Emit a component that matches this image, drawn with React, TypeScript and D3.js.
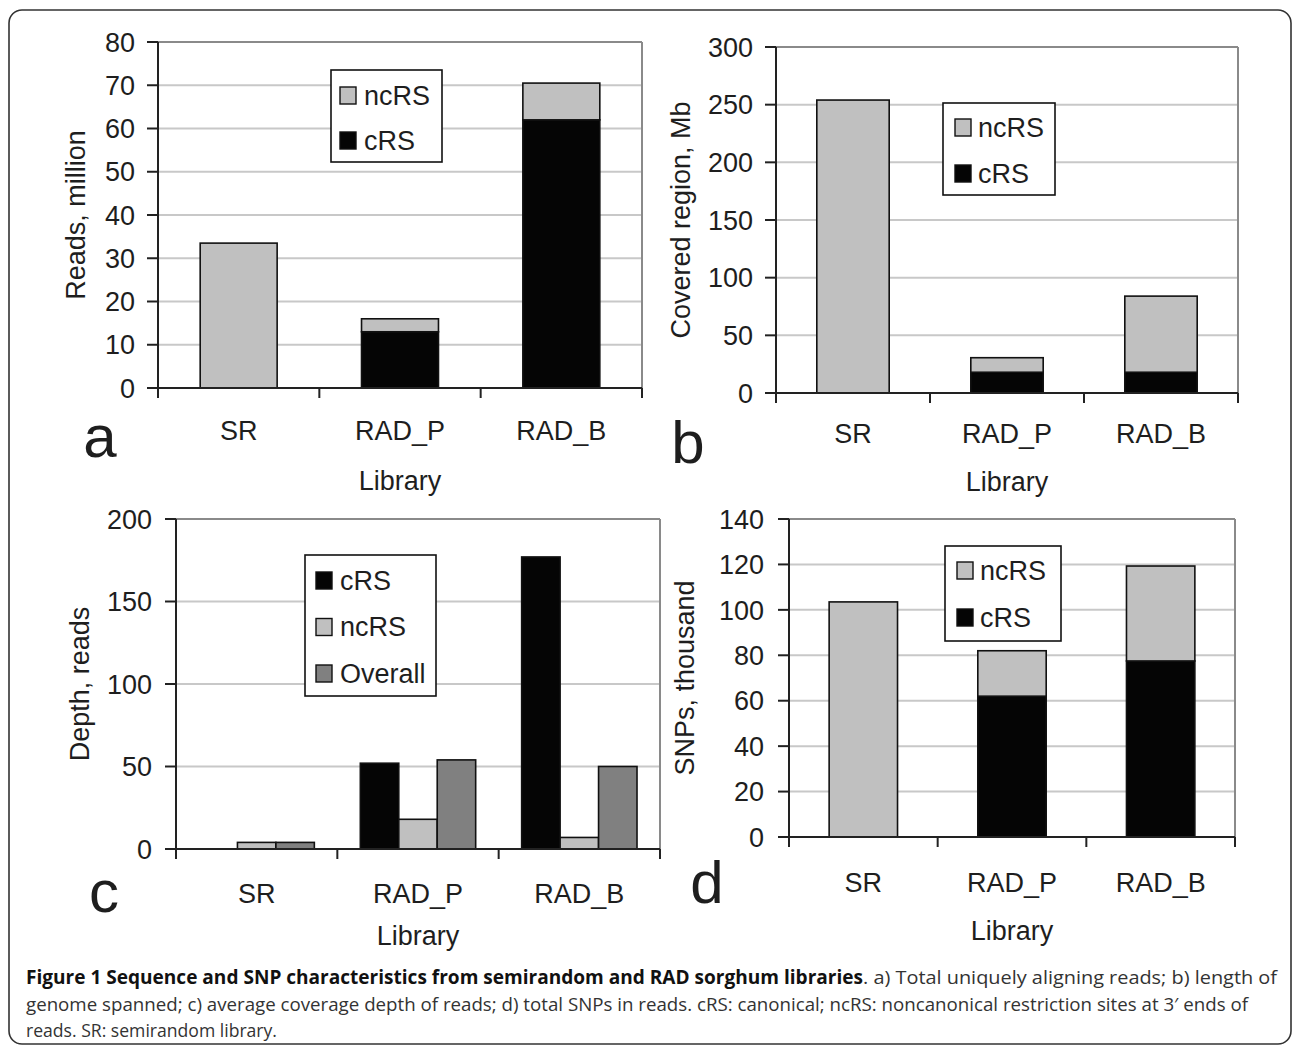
import * as d3 from 'd3';

const libraries = ['SR', 'RAD_P', 'RAD_B'];

// a) reads, million
const readsCRS = [0, 13, 62];
const readsNcRS = [33.5, 3, 8.5];
const readsTicks = [0, 10, 20, 30, 40, 50, 60, 70, 80];

// b) covered region, Mb
const regionCRS = [0, 18, 18];
const regionNcRS = [254, 12.6, 66];
const regionTicks = [0, 50, 100, 150, 200, 250, 300];

// c) depth, reads
const depthCRS = [0, 52, 177];
const depthNcRS = [4, 18, 7];
const depthOverall = [4, 54, 50];
const depthTicks = [0, 50, 100, 150, 200];

// d) SNPs, thousand
const snpCRS = [0, 62, 77.5];
const snpNcRS = [103.5, 20, 41.8];
const snpTicks = [0, 20, 40, 60, 80, 100, 120, 140];

const C_RS = '#050505';
const NC_RS = '#c0c0c0';
const OVERALL = '#808080';
const FONT = '"Liberation Sans", Arial, sans-serif';
const INK = '#1e1e1e';

type Series = { name: string; color: string; values: number[] };

interface PanelProps {
	x0: number;
	x1: number;
	y0: number;
	y1: number;
	ticks: number[];
	series: Series[];
	mode: 'stack' | 'group';
	barFrac: number;
	legend: { x: number; y: number; w: number; h: number; first: number; rowH: number; sw: number; tx: number; order: string[] };
	yTitle: string;
	yTitleX: number;
	tickLabelX: number;
	catY: number;
	libY: number;
	letter: string;
	letterX: number;
	letterY: number;
}

const Panel = (p: PanelProps) => {
	const x = d3.scaleBand<string>().domain(libraries).range([p.x0, p.x1]);
	const y = d3
		.scaleLinear()
		.domain([0, p.ticks[p.ticks.length - 1]])
		.range([p.y1, p.y0]);
	const bw = x.bandwidth() * p.barFrac;

	const rows = libraries.map((lib, i) => {
		const r: Record<string, any> = { lib };
		p.series.forEach((s) => (r[s.name] = s.values[i]));
		return r;
	});

	let bars: { key: string; x: number; w: number; y0: number; y1: number; color: string }[] = [];
	if (p.mode === 'stack') {
		const stacked = d3.stack<any>().keys(p.series.map((s) => s.name))(rows);
		stacked.forEach((layer, k) => {
			layer.forEach((d, i) => {
				if (d[1] - d[0] <= 0) return;
				bars.push({
					key: `${layer.key}-${i}`,
					x: x(libraries[i])! + (x.bandwidth() - bw) / 2,
					w: bw,
					y0: y(d[1]),
					y1: y(d[0]),
					color: p.series[k].color,
				});
			});
		});
	} else {
		const inner = d3
			.scaleBand<string>()
			.domain(p.series.map((s) => s.name))
			.range([0, bw]);
		p.series.forEach((s) => {
			s.values.forEach((v, i) => {
				if (v <= 0) return;
				bars.push({
					key: `${s.name}-${i}`,
					x: x(libraries[i])! + (x.bandwidth() - bw) / 2 + inner(s.name)!,
					w: inner.bandwidth(),
					y0: y(v),
					y1: y(0),
					color: s.color,
				});
			});
		});
	}

	const colorOf = (name: string) => p.series.find((s) => s.name === name)!.color;
	const boundaries = [...libraries.map((l) => x(l)!), p.x1];

	return (
		<g fontFamily={FONT} fill={INK}>
			{/* grid */}
			{p.ticks.slice(1).map((t) => (
				<line key={`g${t}`} x1={p.x0} x2={p.x1} y1={y(t)} y2={y(t)} stroke={t === p.ticks[p.ticks.length - 1] ? '#8a8a8a' : '#c8c8c8'} strokeWidth={2} />
			))}
			<line x1={p.x1} x2={p.x1} y1={p.y0} y2={p.y1} stroke="#8a8a8a" strokeWidth={2} />

			{/* bars */}
			{bars.map((b) => (
				<rect key={b.key} x={b.x} y={b.y0} width={b.w} height={b.y1 - b.y0} fill={b.color} stroke="#111" strokeWidth={1.6} />
			))}

			{/* y axis */}
			<line x1={p.x0} x2={p.x0} y1={p.y0} y2={p.y1} stroke="#222" strokeWidth={2} />
			{p.ticks.map((t) => (
				<g key={`t${t}`}>
					<line x1={p.x0 - 11} x2={p.x0} y1={y(t)} y2={y(t)} stroke="#222" strokeWidth={2} />
					<text x={p.tickLabelX} y={y(t)} dy="0.36em" textAnchor="end" fontSize={27}>
						{t}
					</text>
				</g>
			))}
			<text
				transform={`translate(${p.yTitleX},${(p.y0 + p.y1) / 2}) rotate(-90)`}
				dy="0.36em"
				textAnchor="middle"
				fontSize={27}
			>
				{p.yTitle}
			</text>

			{/* x axis */}
			<line x1={p.x0} x2={p.x1} y1={p.y1} y2={p.y1} stroke="#222" strokeWidth={2} />
			{boundaries.map((bx, i) => (
				<line key={`xb${i}`} x1={bx} x2={bx} y1={p.y1} y2={p.y1 + 10} stroke="#222" strokeWidth={2} />
			))}
			{libraries.map((l) => (
				<text key={l} x={x(l)! + x.bandwidth() / 2} y={p.catY} dy="0.36em" textAnchor="middle" fontSize={27}>
					{l}
				</text>
			))}
			<text x={(p.x0 + p.x1) / 2} y={p.libY} dy="0.36em" textAnchor="middle" fontSize={27}>
				Library
			</text>
			<text x={p.letterX} y={p.letterY} textAnchor="middle" fontSize={60}>
				{p.letter}
			</text>

			{/* legend */}
			<rect x={p.legend.x} y={p.legend.y} width={p.legend.w} height={p.legend.h} fill="#fff" stroke="#111" strokeWidth={1.6} />
			{p.legend.order.map((name, i) => {
				const cy = p.legend.y + p.legend.first + i * p.legend.rowH;
				return (
					<g key={name}>
						<rect x={p.legend.x + p.legend.sw} y={cy - 8} width={16} height={17} fill={colorOf(name)} stroke="#111" strokeWidth={1.4} />
						<text x={p.legend.x + p.legend.tx} y={cy} dy="0.36em" fontSize={27}>
							{name}
						</text>
					</g>
				);
			})}
		</g>
	);
};

export default function App() {
	return (
		<svg width={1293} height={1048} style={{ position: 'absolute', left: 0, top: 0, background: '#fff' }}>
			<rect x={9} y={10} width={1282} height={1034} rx={13} fill="#fff" stroke="#333" strokeWidth={1.6} />

			<Panel
				x0={158}
				x1={642}
				y0={42}
				y1={388}
				ticks={readsTicks}
				series={[
					{ name: 'cRS', color: C_RS, values: readsCRS },
					{ name: 'ncRS', color: NC_RS, values: readsNcRS },
				]}
				mode="stack"
				barFrac={0.477}
				legend={{ x: 331, y: 70, w: 111, h: 92, first: 25, rowH: 45, sw: 9, tx: 33, order: ['ncRS', 'cRS'] }}
				yTitle="Reads, million"
				yTitleX={75}
				tickLabelX={135}
				catY={430}
				libY={480}
				letter="a"
				letterX={100}
				letterY={457}
			/>

			<Panel
				x0={776}
				x1={1238}
				y0={47}
				y1={393}
				ticks={regionTicks}
				series={[
					{ name: 'cRS', color: C_RS, values: regionCRS },
					{ name: 'ncRS', color: NC_RS, values: regionNcRS },
				]}
				mode="stack"
				barFrac={0.47}
				legend={{ x: 943, y: 103, w: 112, h: 92, first: 24, rowH: 46, sw: 12, tx: 35, order: ['ncRS', 'cRS'] }}
				yTitle="Covered region, Mb"
				yTitleX={680}
				tickLabelX={753}
				catY={433}
				libY={481}
				letter="b"
				letterX={688}
				letterY={463}
			/>

			<Panel
				x0={176}
				x1={660}
				y0={519}
				y1={849}
				ticks={depthTicks}
				series={[
					{ name: 'cRS', color: C_RS, values: depthCRS },
					{ name: 'ncRS', color: NC_RS, values: depthNcRS },
					{ name: 'Overall', color: OVERALL, values: depthOverall },
				]}
				mode="group"
				barFrac={0.715}
				legend={{ x: 305, y: 555, w: 131, h: 141, first: 25, rowH: 46.5, sw: 11, tx: 35, order: ['cRS', 'ncRS', 'Overall'] }}
				yTitle="Depth, reads"
				yTitleX={79}
				tickLabelX={152}
				catY={893}
				libY={935}
				letter="c"
				letterX={104}
				letterY={912}
			/>

			<Panel
				x0={789}
				x1={1235}
				y0={519}
				y1={837}
				ticks={snpTicks}
				series={[
					{ name: 'cRS', color: C_RS, values: snpCRS },
					{ name: 'ncRS', color: NC_RS, values: snpNcRS },
				]}
				mode="stack"
				barFrac={0.46}
				legend={{ x: 945, y: 546, w: 116, h: 95, first: 24, rowH: 47, sw: 12, tx: 35, order: ['ncRS', 'cRS'] }}
				yTitle="SNPs, thousand"
				yTitleX={684}
				tickLabelX={764}
				catY={882}
				libY={930}
				letter="d"
				letterX={707}
				letterY={903}
			/>

			<g fontFamily='"Open Sans", sans-serif' fontSize={19} fill="#333">
				<text x={26} y={984} textLength={837} lengthAdjust="spacingAndGlyphs" fontWeight="bold" fill="#111">
					Figure 1 Sequence and SNP characteristics from semirandom and RAD sorghum libraries
				</text>
				<text x={863} y={984} textLength={414} lengthAdjust="spacingAndGlyphs">
					. a) Total uniquely aligning reads; b) length of
				</text>
				<text x={26} y={1011} textLength={1222} lengthAdjust="spacingAndGlyphs">
					genome spanned; c) average coverage depth of reads; d) total SNPs in reads. cRS: canonical; ncRS: noncanonical restriction sites at 3′ ends of
				</text>
				<text x={26} y={1037} textLength={251} lengthAdjust="spacingAndGlyphs">
					reads. SR: semirandom library.
				</text>
			</g>
		</svg>
	);
}
